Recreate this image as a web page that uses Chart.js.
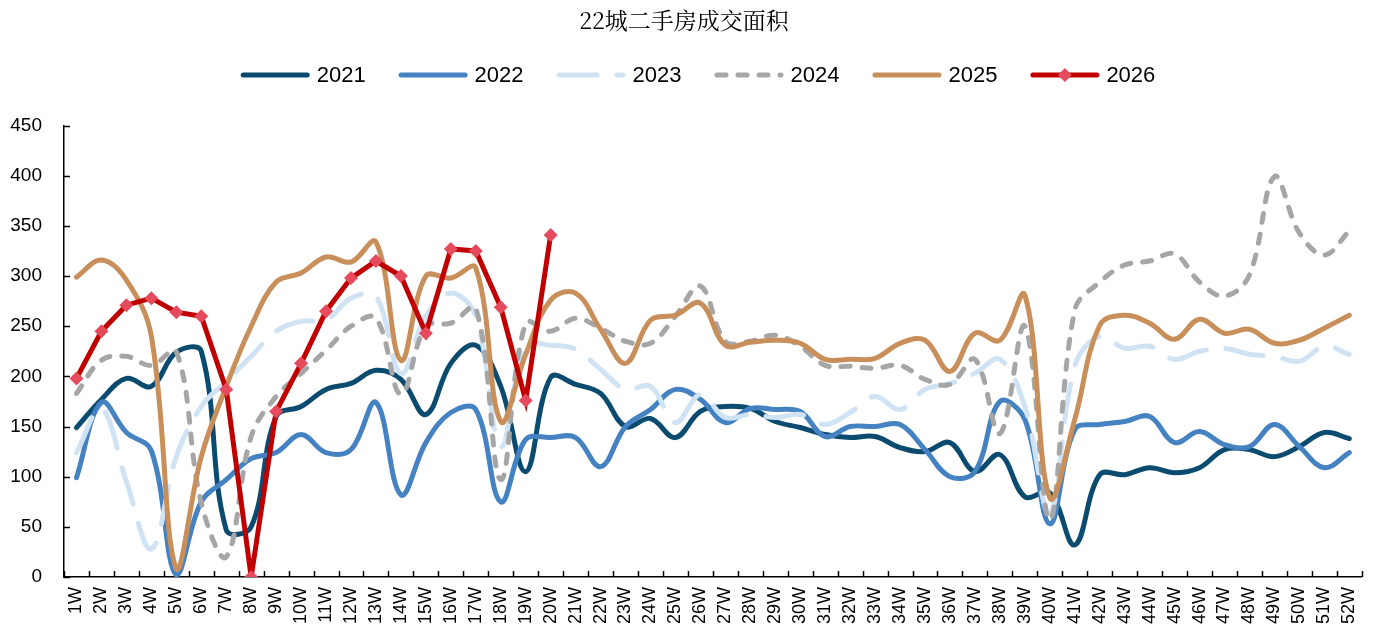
<!DOCTYPE html>
<html>
<head>
<meta charset="utf-8">
<script src="https://cdn.jsdelivr.net/npm/chart.js@4"></script>
<style>
  html, body { margin: 0; padding: 0; background: #fff; }
</style>
</head>
<body>
<canvas id="myChart" width="1381" height="630"></canvas>
<script>
const weeks = ['1W','2W','3W','4W','5W','6W','7W','8W','9W','10W','11W','12W','13W','14W','15W','16W','17W','18W','19W','20W','21W','22W','23W','24W','25W','26W','27W','28W','29W','30W','31W','32W','33W','34W','35W','36W','37W','38W','39W','40W','41W','42W','43W','44W','45W','46W','47W','48W','49W','50W','51W','52W'];

const y2021 = [149,177,198,190,224,225,47,50,160,170,187,193,206,197,162,213,231,190,105,199,192,183,150,158,139,165,170,168,155,149,142,139,140,129,125,134,105,122,80,84,32,102,102,109,104,109,127,127,120,130,144,138];
const y2022 = [99,174,144,126,2,75,97,118,124,142,124,127,174,82,134,164,167,75,137,139,139,110,150,167,187,177,154,168,167,165,140,150,150,152,127,100,105,175,157,53,147,152,155,160,134,145,132,130,152,130,109,124];
const y2023 = [124,168,95,28,120,170,195,220,245,255,256,278,280,203,260,283,260,130,230,231,227,207,187,190,154,182,159,162,159,162,152,164,180,167,187,193,203,217,170,64,210,240,228,230,217,225,228,222,220,215,230,222];
const y2024 = [183,216,220,211,225,74,20,140,180,203,226,250,258,182,250,253,268,97,253,245,258,248,235,233,260,290,235,235,241,230,211,210,208,211,197,192,217,143,250,57,266,294,311,315,322,294,280,301,399,343,321,345];
const y2025 = [299,316,296,240,8,120,190,250,294,303,319,314,334,216,300,298,308,155,222,276,283,247,213,256,261,273,231,234,236,233,217,217,218,233,236,205,243,236,281,79,157,251,261,253,237,257,243,247,233,236,248,261];
const y2026 = [198,245,271,278,264,260,187,0,165,213,265,298,315,300,243,327,325,269,176,341];

const yTicks = [0,50,100,150,200,250,300,350,400,450];

const context = document.getElementById('myChart').getContext('2d');
const sansFont = '"Liberation Sans", Arial, sans-serif';

const smooth = (label, data, color, order, dash = []) => ({
  label,
  data,
  borderColor: color,
  backgroundColor: color,
  borderWidth: 5,
  borderDash: dash,
  borderCapStyle: 'round',
  borderJoinStyle: 'round',
  tension: 0.38,
  pointRadius: 0,
  fill: false,
  order
});

const datasets = [
  smooth('2021', y2021, '#0b4b6f', 6),
  smooth('2022', y2022, '#4482c1', 5),
  smooth('2023', y2023, '#d0e3f4', 4, [38, 20]),
  smooth('2024', y2024, '#a6a6a6', 3, [9, 12]),
  smooth('2025', y2025, '#c98f5b', 2),
  {
    label: '2026',
    data: y2026,
    borderColor: '#c00000',
    backgroundColor: '#e64b5d',
    borderWidth: 5,
    tension: 0,
    pointStyle: 'rectRot',
    pointRadius: 7,
    pointBorderWidth: 0,
    pointBackgroundColor: '#e64b5d',
    fill: false,
    order: 1
  }
];

// ticks pointing into the plot, like the source
const insideTicks = {
  id: 'insideTicks',
  afterDraw(chart) {
    const {ctx, scales: {x, y}} = chart;
    ctx.save();
    ctx.strokeStyle = '#000';
    ctx.lineWidth = 1.5;
    ctx.beginPath();
    const half = (x.getPixelForValue(1) - x.getPixelForValue(0)) / 2;
    for (let i = 0; i <= weeks.length; i++) {
      const px = Math.round(x.getPixelForValue(i) - half) + 0.5;
      ctx.moveTo(px, y.bottom);
      ctx.lineTo(px, y.bottom - 6);
    }
    yTicks.forEach(v => {
      const py = Math.round(y.getPixelForValue(v)) + 0.5;
      ctx.moveTo(x.left, py);
      ctx.lineTo(x.left + 6, py);
    });
    ctx.stroke();
    ctx.restore();
  }
};

// legend with line samples
const lineLegend = {
  id: 'lineLegend',
  afterDraw(chart) {
    const {ctx} = chart;
    const items = chart.data.datasets;
    const lineLen = 69, gap = 7, spacing = 33, cy = 75;
    ctx.save();
    ctx.font = '22px ' + sansFont;
    const widths = items.map(d => lineLen + gap + ctx.measureText(d.label).width);
    const total = widths.reduce((a, b) => a + b, 0) + spacing * (items.length - 1);
    let x = 698 - total / 2;
    items.forEach((d, i) => {
      ctx.beginPath();
      ctx.setLineDash(d.borderDash || []);
      ctx.lineCap = 'round';
      ctx.lineWidth = d.borderWidth;
      ctx.strokeStyle = d.borderColor;
      ctx.moveTo(x + 2.5, cy);
      ctx.lineTo(x + lineLen - 2.5, cy);
      ctx.stroke();
      ctx.setLineDash([]);
      if (d.pointStyle === 'rectRot') {
        const mx = x + lineLen / 2, r = d.pointRadius;
        ctx.fillStyle = d.pointBackgroundColor;
        ctx.beginPath();
        ctx.moveTo(mx, cy - r);
        ctx.lineTo(mx + r, cy);
        ctx.lineTo(mx, cy + r);
        ctx.lineTo(mx - r, cy);
        ctx.closePath();
        ctx.fill();
      }
      ctx.fillStyle = '#000';
      ctx.textBaseline = 'middle';
      ctx.fillText(d.label, x + lineLen + gap, cy + 1);
      x += widths[i] + spacing;
    });
    ctx.restore();
  }
};

new Chart(context, {
  type: 'line',
  data: {
    labels: weeks,
    datasets
  },
  options: {
    responsive: false,
    animation: false,
    devicePixelRatio: 1,
    layout: {
      padding: {left: 0, right: 13, top: 0, bottom: 0}
    },
    plugins: {
      legend: {display: false},
      tooltip: {enabled: false},
      title: {
        display: true,
        text: '22城二手房成交面积',
        color: '#000',
        font: {size: 23, weight: 'normal', family: '"Noto Serif CJK SC", "Noto Sans CJK SC", serif'},
        padding: {top: 6, bottom: 92}
      }
    },
    scales: {
      x: {
        offset: true,
        afterFit: axis => { axis.height = 53; },
        grid: {display: false, drawTicks: false},
        border: {display: true, color: '#000', width: 1.5},
        ticks: {
          color: '#000',
          font: {size: 18, family: sansFont},
          minRotation: 90,
          maxRotation: 90,
          autoSkip: false,
          padding: 10
        }
      },
      y: {
        min: 0,
        max: 450,
        afterBuildTicks: axis => { axis.ticks = yTicks.map(v => ({value: v})); },
        afterFit: axis => { axis.width = 64; },
        grid: {display: false, drawTicks: false},
        border: {display: true, color: '#000', width: 1.5},
        ticks: {
          color: '#000',
          font: {size: 19, family: sansFont},
          padding: 22
        }
      }
    }
  },
  plugins: [insideTicks, lineLegend]
});
</script>
</body>
</html>
